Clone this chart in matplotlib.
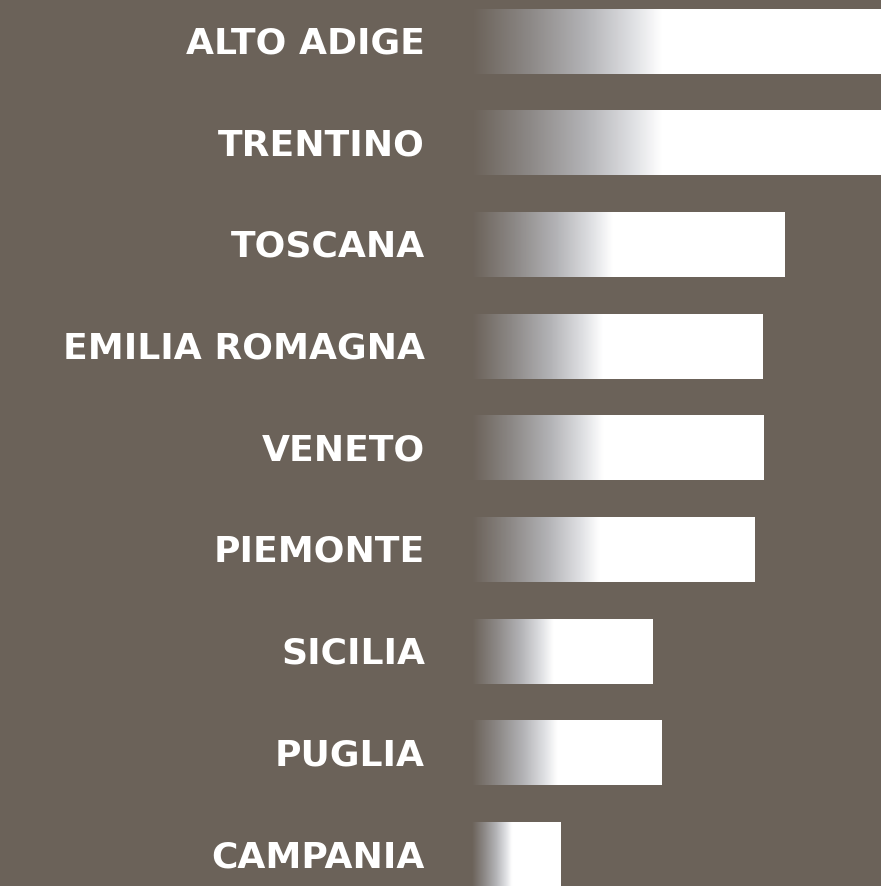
import numpy as np
import matplotlib.pyplot as plt
from matplotlib.colors import LinearSegmentedColormap

regions = ['ALTO ADIGE', 'TRENTINO', 'TOSCANA', 'EMILIA ROMAGNA', 'VENETO',
           'PIEMONTE', 'SICILIA', 'PUGLIA', 'CAMPANIA']
values = [4.22, 4.22, 3.13, 2.91, 2.92, 2.83, 1.81, 1.90, 0.89]

bg = '#6b6259'
fade = LinearSegmentedColormap.from_list(
    'fade', [(0, bg), (0.3, '#8c8886'), (0.6, '#b3b3b6'), (0.85, '#dfe0e3'), (1, '#ffffff')])

fig = plt.figure(figsize=(8.81, 8.86), dpi=100, facecolor=bg)
ax = fig.add_axes([0, 0, 1, 1])
ax.set_facecolor(bg)
ax.axis('off')

h = 0.63
t = np.linspace(0, 1, 512)
for i, (name, v) in enumerate(zip(regions, values)):
    # gradient covers roughly the first 45% of each bar
    g = np.clip(t / 0.45, 0, 1)
    img = fade(g)[np.newaxis, :, :]
    ax.imshow(img, extent=(0, v, i + h / 2, i - h / 2), aspect='auto',
              interpolation='bilinear')
    ax.text(-0.47, i + 0.02, name, ha='right', va='center', color='white',
            fontsize=26, fontweight='bold', family='DejaVu Sans')

ax.set_xlim(-4.72, 4.09)
ax.set_ylim(8.305, -0.408)
fig.savefig('out.png', dpi=100, facecolor=bg)
